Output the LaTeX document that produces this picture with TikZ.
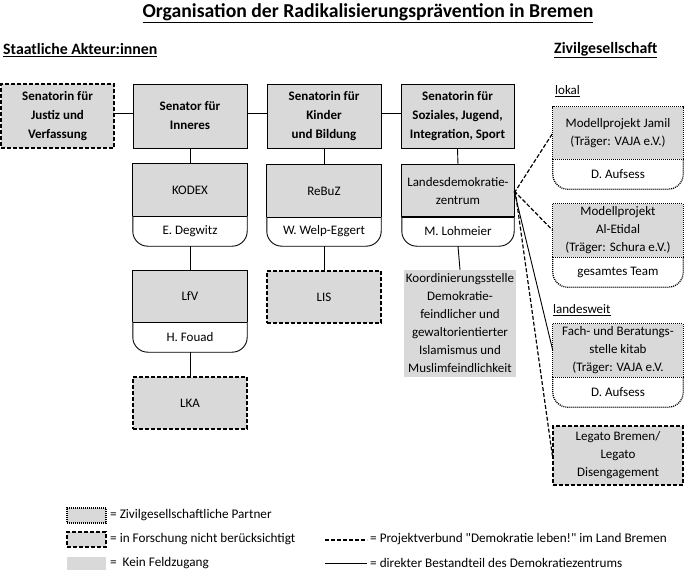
\documentclass[tikz,border=0pt]{standalone}
\usepackage{fontspec}
\setmainfont{Carlito}
\newfontfamily\plainquote{Carlito}[Ligatures=TeXOff]
\definecolor{boxgray}{RGB}{217,217,217}
\tikzset{
  x=1pt,y=-1pt,
  boxtxt/.style={font=\fontsize{13}{18}\selectfont, align=center, inner sep=0pt},
  headtxt/.style={font=\bfseries\fontsize{13}{19}\selectfont, align=center, inner sep=0pt},
  solidln/.style={line width=0.9pt},
  dashln/.style={line width=1.3pt, dash pattern=on 4pt off 2pt},
  dotln/.style={line width=1.3pt, dash pattern=on 1pt off 1pt},
  conn/.style={line width=0.9pt},
  dconn/.style={line width=1.2pt, dash pattern=on 4pt off 2pt},
  legtxt/.style={font=\fontsize{13.2}{15}\selectfont, anchor=west, inner sep=0pt},
  sectxt/.style={font=\bfseries\fontsize{15.8}{18}\selectfont, anchor=west, inner sep=0pt},
}
% name, outline style, x1, x2, ytop, ydiv, ybot, top text, bottom text
\newcommand{\splitbox}[9]{%
  \node[boxtxt, fill=boxgray, minimum width={#4-#3}, minimum height={#6-#5}] (#1) at ({(#3+#4)/2},{(#5+#6)/2}) {#8};
  \node[boxtxt, minimum width={#4-#3}, minimum height={#7-#6}] (#1-b) at ({(#3+#4)/2},{(#6+#7)/2}) {#9};
  \draw[#2] (#1.south west) -- (#1.north west) -- (#1.north east) -- (#1.south east);
  \draw[#2] (#1.south west) -- (#1.south east);
  \draw[#2, rounded corners=15pt] (#1.south west) -- (#1-b.south west) -- (#1-b.south east) -- (#1.south east);
}
% name, outline style, font style, x1, x2, ytop, ybot, text
\newcommand{\plainbox}[8]{%
  \node[#3, fill=boxgray, minimum width={#5-#4}, minimum height={#7-#6}, #2] (#1) at ({(#4+#5)/2},{(#6+#7)/2}) {#8};
}
\begin{document}
\begin{tikzpicture}
\useasboundingbox (0,0) rectangle (685,572);
% titles
\node[font=\bfseries\fontsize{19.7}{22}\selectfont, inner sep=0pt] (title) at (368,13) {\underline{Organisation der Radikalisierungsprävention in Bremen}};
\node[sectxt] (staat) at (3,50) {\underline{Staatliche Akteur:innen}};
\node[sectxt] (zivil) at (554,50) {\underline{Zivilgesellschaft}};
% top row
\plainbox{justiz}{draw, dashln}{headtxt}{1}{114}{84}{148}{Senatorin für\\Justiz und\\Verfassung}
\plainbox{inneres}{draw, solidln}{headtxt}{133}{247}{84}{148}{Senator für\\Inneres}
\plainbox{kinder}{draw, solidln}{headtxt}{267}{381}{84}{148}{Senatorin für\\Kinder\\und Bildung}
\plainbox{sozial}{draw, solidln}{headtxt}{401}{514}{84}{148}{Senatorin für\\Soziales, Jugend,\\Integration, Sport}
% second row
\splitbox{kodex}{solidln}{133}{247}{164}{216}{246}{KODEX}{E. Degwitz}
\splitbox{rebuz}{solidln}{267}{381}{165}{217}{246}{ReBuZ}{W. Welp-Eggert}
\splitbox{landes}{solidln}{402}{514}{165}{217}{246}{Landesdemokratie-\\zentrum}{M. Lohmeier}
\draw[line width=1.8pt] (landes.south west) -- (landes.south east);
% third row
\splitbox{lfv}{solidln}{133}{247}{271}{322}{352}{LfV}{H. Fouad}
\plainbox{lis}{draw, dashln}{boxtxt}{267}{381}{271}{323}{LIS}
\plainbox{koord}{}{boxtxt}{404}{516}{270}{377}{Koordinierungsstelle\\Demokratie-\\feindlicher und\\gewaltorientierter\\Islamismus und\\Muslimfeindlichkeit}
\plainbox{lka}{draw, dashln}{boxtxt}{133}{247}{377}{429}{LKA}
% civil society
\node[font=\fontsize{13}{16}\selectfont, anchor=west, inner sep=0pt] (lokal) at (555,91) {\underline{lokal}};
\splitbox{jamil}{dotln}{553}{683}{107}{159}{189}{Modellprojekt Jamil\\(Träger: VAJA e.V.)}{D. Aufsess}
\splitbox{etidal}{dotln}{553}{683}{204}{257}{287}{Modellprojekt\\Al-Etidal\\(Träger: Schura e.V.)}{gesamtes Team}
\node[font=\fontsize{13}{16}\selectfont, anchor=west, inner sep=0pt] (landesweit) at (553,310) {\underline{landesweit}};
\splitbox{kitab}{dotln}{553}{683}{324}{377}{407}{Fach- und Beratungs-\\stelle kitab\\(Träger: VAJA e.V.}{D. Aufsess}
\plainbox{legato}{draw, dashln}{boxtxt}{553}{683}{426}{485}{Legato Bremen/\\Legato\\Disengagement}
% connectors
\draw[conn] ([yshift=3pt]justiz.east) -- ([yshift=3pt]inneres.west);
\draw[conn] ([yshift=3pt]inneres.east) -- ([yshift=3pt]kinder.west);
\draw[conn] ([yshift=3pt]kinder.east) -- ([yshift=3pt]sozial.west);
\draw[conn] (inneres.south) -- (kodex.north);
\draw[conn] (kinder.south) -- (rebuz.north);
\draw[conn] (sozial.south) -- (landes.north);
\draw[conn] (kodex-b.south) -- (lfv.north);
\draw[conn] (lfv-b.south) -- (lka.north);
\draw[conn] (rebuz-b.south) -- (lis.north);
\draw[conn] (landes-b.south) -- (koord.north);
\draw[dconn] ([yshift=-2pt]landes.east) -- (jamil.west);
\draw[dconn] (landes.east) -- (etidal.west);
\draw[conn] (landes.east) -- (kitab.west);
\draw[dconn] ([xshift=1pt]landes.east) -- (legato.west);
% legend
\node[fill=boxgray, draw, dotln, minimum width=39, minimum height=15, inner sep=0pt] (lg1) at (86.5,515.5) {};
\node[fill=boxgray, draw, dashln, minimum width=39, minimum height=15, inner sep=0pt] (lg2) at (86.5,539.5) {};
\node[fill=boxgray, minimum width=39, minimum height=13, inner sep=0pt] (lg3) at (86.5,563.5) {};
\node[legtxt] (lt1) at (110,515) {= Zivilgesellschaftliche Partner};
\node[legtxt] (lt2) at (110,539) {= in Forschung nicht berücksichtigt};
\node[legtxt] (lt3) at (110,563) {=\ \ Kein Feldzugang};
\coordinate (la1) at (325,540);
\coordinate (lb1) at (367,540);
\coordinate (la2) at (325,563);
\coordinate (lb2) at (367,563);
\draw[dconn] (la1) -- (lb1);
\draw[conn] (la2) -- (lb2);
\node[legtxt] (lt4) at (370,539) {= Projektverbund {\plainquote "}Demokratie leben!{\plainquote "} im Land Bremen};
\node[legtxt] (lt5) at (370,563) {= direkter Bestandteil des Demokratiezentrums};
\end{tikzpicture}
\end{document}
